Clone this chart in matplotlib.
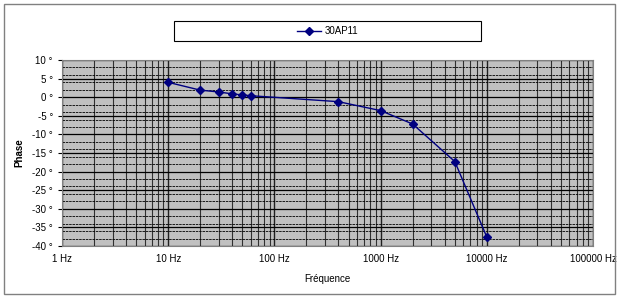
import numpy as np
import matplotlib
matplotlib.use("Agg")
import matplotlib.pyplot as plt
from matplotlib.patches import Rectangle
from matplotlib.ticker import FixedLocator, NullFormatter

# data
freq = [10, 20, 30, 40, 50, 60, 400, 1000, 2000, 5000, 10000]
phase = [4.0, 1.9, 1.4, 0.9, 0.6, 0.4, -1.2, -3.6, -7.2, -17.3, -37.6]
x_ticks = [1, 10, 100, 1000, 10000, 100000]
x_labels = ["1 Hz", "10 Hz", "100 Hz", "1000 Hz", "10000 Hz", "100000 Hz"]
y_ticks = [10, 5, 0, -5, -10, -15, -20, -25, -30, -35, -40]
y_labels = ["%d °" % v for v in y_ticks]
series_name = "30AP11"

plt.rcParams['font.family'] = ['Liberation Sans', 'DejaVu Sans']

fig = plt.figure(figsize=(6.19, 2.98), dpi=100)
# outer frame
fig.patches.append(Rectangle((4/619, 4/298), 611/619, 290/298, transform=fig.transFigure,
                             fill=False, edgecolor='#808080', linewidth=1))
# legend box (wide, like the spreadsheet one)
fig.patches.append(Rectangle((174/619, 1-41/298), 307/619, 20/298, transform=fig.transFigure,
                             fill=False, edgecolor='black', linewidth=0.8))

ax = fig.add_axes([62/619, 1-246/298, 531/619, 186/298])
ax.set_facecolor('#c0c0c0')
ax.set_xscale('log')
ax.set_xlim(1, 100000)
ax.set_ylim(-40, 10)

# vertical grid lines (all decades and subdivisions)
minor_x = [m * 10**d for d in range(5) for m in range(2, 10)]
ax.xaxis.set_minor_locator(FixedLocator(minor_x))
ax.xaxis.set_minor_formatter(NullFormatter())
ax.grid(True, which='major', axis='x', color='#202020', linewidth=1.0)
ax.grid(True, which='minor', axis='x', color='#303030', linewidth=0.8)

# horizontal grid: dashed every 2 degrees, solid every 5 degrees
ax.yaxis.set_minor_locator(FixedLocator(np.arange(-40, 11, 2)))
ax.grid(True, which='minor', axis='y', color='black', linewidth=0.6, linestyle=(0, (3, 1)))
ax.grid(True, which='major', axis='y', color='black', linewidth=0.9)
ax.set_axisbelow(True)

ax.set_xticks(x_ticks)
ax.set_xticklabels(x_labels)
ax.set_yticks(y_ticks)
ax.set_yticklabels(y_labels)
ax.tick_params(axis='x', which='both', length=0, labelsize=7, pad=6)
ax.tick_params(axis='y', which='major', length=3, labelsize=7, color='black')
ax.tick_params(axis='y', which='minor', length=0)
for s in ax.spines.values():
    s.set_color('#808080')

ax.plot(freq, phase, color='#000080', linewidth=1, marker='D', markersize=4,
        label=series_name, zorder=5)

ax.set_xlabel("Fréquence", fontsize=7, labelpad=7)
ax.set_ylabel("Phase", fontsize=7, fontweight='bold', labelpad=6)

leg = fig.legend(loc='center', bbox_to_anchor=(327.5/619, 1-31/298), ncol=1, fontsize=7,
                 frameon=False, handlelength=2.5, handletextpad=0.4)

fig.savefig("out.png", dpi=100)
